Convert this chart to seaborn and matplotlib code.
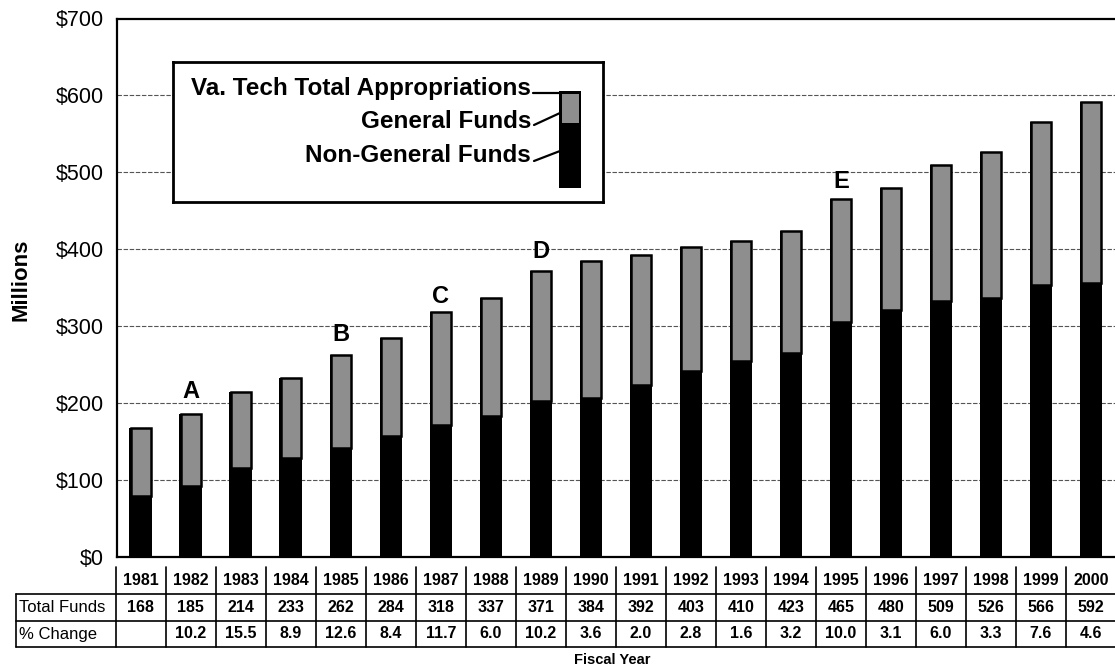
import matplotlib
matplotlib.use("Agg")
import matplotlib.pyplot as plt
import matplotlib.transforms as mtransforms
from matplotlib.patches import Rectangle
from matplotlib.lines import Line2D
import seaborn as sns
import pandas as pd

# ---- data (millions of dollars) ----
years = ["1981", "1982", "1983", "1984", "1985", "1986", "1987", "1988", "1989", "1990",
         "1991", "1992", "1993", "1994", "1995", "1996", "1997", "1998", "1999", "2000"]
total_funds = [168, 185, 214, 233, 262, 284, 318, 337, 371, 384,
               392, 403, 410, 423, 465, 480, 509, 526, 566, 592]
non_general_funds = [79, 92, 115, 129, 142, 157, 171, 183, 202, 206,
                     223, 241, 254, 265, 305, 321, 332, 337, 353, 356]
pct_change = ["", "10.2", "15.5", "8.9", "12.6", "8.4", "11.7", "6.0", "10.2", "3.6",
              "2.0", "2.8", "1.6", "3.2", "10.0", "3.1", "6.0", "3.3", "7.6", "4.6"]
milestones = {"1982": "A", "1985": "B", "1987": "C", "1989": "D", "1995": "E"}
milestone_gap_px = {"A": 11, "B": 9, "C": 4, "D": 8, "E": 6}
y_ticks = [0, 100, 200, 300, 400, 500, 600, 700]

general_funds = [t - n for t, n in zip(total_funds, non_general_funds)]
df = pd.DataFrame({"year": years, "total": total_funds,
                   "non_general": non_general_funds, "general": general_funds})

sns.set_style("white")
plt.rcParams["font.family"] = ["Liberation Sans", "DejaVu Sans"]
plt.rcParams["text.color"] = "black"
plt.rcParams["axes.labelcolor"] = "black"
plt.rcParams["xtick.color"] = "black"
plt.rcParams["ytick.color"] = "black"

W, H = 1115, 672
fig = plt.figure(figsize=(W / 100, H / 100), dpi=100)
fig.patch.set_facecolor("white")


def fx(px):
    return px / W


def fy(py):
    return 1 - py / H


ax_left, ax_top, ax_bottom = 116.7, 18.5, 556.7
ax = fig.add_axes([fx(ax_left), fy(ax_bottom), 1 - fx(ax_left), (ax_bottom - ax_top) / H])

BAR_W = 0.45
GRAY = "#8e8e8e"

# full-height bars in black (non-general funds show as the black base)
sns.barplot(data=df, x="year", y="total", color="black", saturation=1,
            width=BAR_W, linewidth=0, ax=ax)

# general funds segment stacked on top, outlined in black
edge_lw = 1.8
edge_px = edge_lw / 72 * 100
px_per_unit = (W - ax_left) / 19.96
ax.bar(range(len(years)), df["general"], bottom=df["non_general"],
       width=BAR_W - edge_px / px_per_unit, color=GRAY,
       edgecolor="black", linewidth=edge_lw, zorder=3)

ax.set_xlim(-0.48, 19.48)
ax.set_ylim(0, 700)
ax.set_yticks(y_ticks)
ax.set_yticklabels([f"${v}" for v in y_ticks], fontsize=15.5, color="black")
ax.tick_params(axis="y", length=0, pad=9)
ax.set_xticks([])
ax.set_xlabel("")
ax.set_ylabel("")

for v in y_ticks[1:-1]:
    ax.axhline(v, color="#555555", lw=0.8, ls=(0, (4, 1.5)), zorder=0.5)

for side in ["left", "bottom", "top"]:
    ax.spines[side].set_visible(True)
    ax.spines[side].set_color("black")
    ax.spines[side].set_linewidth(1.6)
ax.spines["right"].set_visible(False)

# milestone letters above selected bars
for yr, letter in milestones.items():
    i = years.index(yr)
    ax.annotate(letter, xy=(i, total_funds[i]),
                xytext=(0, milestone_gap_px[letter] * 0.72), textcoords="offset points",
                ha="center", va="bottom", fontsize=17, fontweight="bold", zorder=5)

fig.text(fx(21), fy(280), "Millions", rotation=90, ha="center", va="center",
         fontsize=16, fontweight="bold")

# ---- data table below the axis ----
tt = mtransforms.blended_transform_factory(ax.transData, fig.transFigure)
row_top, row1, row2, row_bot = 567, 593.5, 621, 647
line_kw = dict(color="black", lw=1.2, transform=tt, clip_on=False)

for k in range(len(years) + 1):
    fig.add_artist(Line2D([k - 0.5, k - 0.5], [fy(row_top), fy(row_bot)], **line_kw))
fig.add_artist(Line2D([-2.5, -2.5], [fy(row1), fy(row_bot)], **line_kw))
for yy in (row1, row2, row_bot):
    fig.add_artist(Line2D([-2.5, 19.6], [fy(yy), fy(yy)], **line_kw))

for i, yr in enumerate(years):
    fig.text(i, fy((row_top + row1) / 2), yr, transform=tt, ha="center", va="center",
             fontsize=11.5, fontweight="bold")
    fig.text(i, fy((row1 + row2) / 2), str(total_funds[i]), transform=tt,
             ha="center", va="center", fontsize=11.5, fontweight="bold")
    fig.text(i, fy((row2 + row_bot) / 2), pct_change[i], transform=tt,
             ha="center", va="center", fontsize=11.5, fontweight="bold")

fig.text(-2.44, fy((row1 + row2) / 2), "Total Funds", transform=tt,
         ha="left", va="center", fontsize=12)
fig.text(-2.44, fy((row2 + row_bot) / 2), "% Change", transform=tt,
         ha="left", va="center", fontsize=12)

fig.text(fx(612), fy(660), "Fiscal Year", ha="center", va="center",
         fontsize=10.5, fontweight="bold")

# ---- legend panel ----
lx0, ly0, lx1, ly1 = 173, 62, 603, 202
lg = fig.add_axes([fx(lx0), fy(ly1), (lx1 - lx0) / W, (ly1 - ly0) / H], zorder=10)
lg.set_xlim(lx0, lx1)
lg.set_ylim(ly1, ly0)
lg.set_xticks([])
lg.set_yticks([])
lg.set_facecolor("white")
for s in lg.spines.values():
    s.set_linewidth(2.0)
    s.set_color("black")

lg.add_patch(Rectangle((559, 91), 22, 97, facecolor="black", edgecolor="none"))
lg.add_patch(Rectangle((561.5, 93.5), 17.5, 29.5, facecolor=GRAY, edgecolor="none"))

legend_items = [("Va. Tech Total Appropriations", 89, (533, 93), (559, 93)),
                ("General Funds", 122, (534, 125), (560, 113)),
                ("Non-General Funds", 156, (534, 161), (560, 151))]
for label, yc, p0, p1 in legend_items:
    lg.text(531, yc, label, ha="right", va="center", fontsize=17.5, fontweight="bold")
    lg.plot([p0[0], p1[0]], [p0[1], p1[1]], color="black", lw=1.6)

fig.savefig("out.png", dpi=100, facecolor="white")
